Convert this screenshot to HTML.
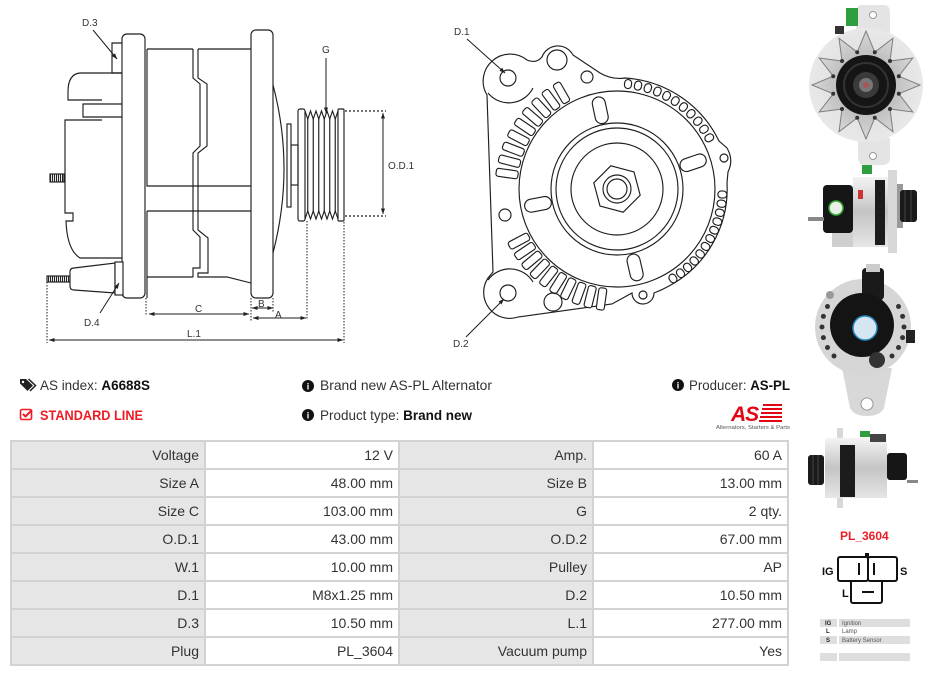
<!DOCTYPE html>
<html><head><meta charset="utf-8"><style>
*{margin:0;padding:0;box-sizing:border-box}
html,body{width:929px;height:676px;overflow:hidden;background:#fff}
body{position:relative;font-family:"Liberation Sans",Arial,sans-serif}
svg{position:absolute;left:0;top:0}
#tbl{position:absolute;left:10px;top:440px;width:779px;height:226px;background:#d2d2d2;padding:2px;display:grid;grid-template-columns:192px 192px 192px 193px;grid-auto-rows:26px;gap:2px}
#tbl div{font-size:14px;line-height:26px;text-align:right;padding-right:5px;white-space:nowrap;color:#333}
#tbl .l{background:#e6e6e6}
#tbl .v{background:#fff}
</style></head><body>
<svg width="929" height="676" viewBox="0 0 929 676">
<defs>
<marker id="ar" viewBox="0 0 10 10" refX="9.5" refY="5" markerWidth="6" markerHeight="6" markerUnits="userSpaceOnUse" orient="auto-start-reverse"><path d="M0,1.5 L10,5 L0,8.5z" fill="#222"/></marker>
<pattern id="hatch" width="2" height="10" patternUnits="userSpaceOnUse"><rect width="1.1" height="10" fill="#222"/></pattern>
<linearGradient id="silv" x1="0" y1="0" x2="0" y2="1"><stop offset="0" stop-color="#f4f4f4"/><stop offset="0.5" stop-color="#c4c4c4"/><stop offset="1" stop-color="#e6e6e6"/></linearGradient>
<radialGradient id="plate" cx="0.5" cy="0.5" r="0.5"><stop offset="0" stop-color="#dadada"/><stop offset="1" stop-color="#e8e8e8"/></radialGradient>
<radialGradient id="blade" cx="0.5" cy="0.5" r="0.5"><stop offset="0.5" stop-color="#bdbdbd"/><stop offset="1" stop-color="#d8d8d8"/></radialGradient>
</defs>

<!-- LEFT SIDE VIEW -->
<g stroke="#1e1e1e" stroke-width="1.15" fill="none">
<rect x="122" y="34" width="23" height="264" rx="5" fill="#fff"/>
<path d="M122,43 H112 V73 H122"/>
<path d="M122,73 H80 Q68,74 68,92 V100 H102"/>
<path d="M122,104 H83 V117 H122"/>
<path d="M102,120 H65 V213 H73 V221 H66 Q67,250 80,258 H122"/>
<rect x="50" y="174" width="14" height="8" fill="url(#hatch)"/>
<rect x="47" y="276" width="23" height="6" fill="url(#hatch)"/>
<path d="M70,272 Q70,268 74,268 L115,263 V293 L74,290 Q70,290 70,286 Z" fill="#fff"/>
<rect x="115" y="262" width="8" height="33" fill="#fff"/>
<path d="M147,49 H193 M147,49 V186 H251 M147,211 H251 M147,211 V298 M147,277 H193"/>
<path d="M193,49 V78 L200,84 V146 L193,153 V230 L200,237 V268 H193 V277"/>
<path d="M198,49 V78 L207,84 V146 L198,153 V230 L208,238 V273 H198 V277 H227 L251,283"/>
<path d="M198,49 H251"/>
<rect x="251" y="30" width="22" height="268" rx="5" fill="#fff"/>
<path d="M273,85 Q295,168 273,253"/>
<rect x="291" y="145" width="7" height="40"/>
<rect x="287" y="124" width="4" height="83" fill="#fff"/>
<rect x="298" y="109" width="7" height="112" rx="2"/>
<rect x="338" y="109" width="6" height="112" rx="1"/>
<path d="M305,111 L307.75,119 L310.5,111 L313.25,119 L316,111 L318.75,119 L321.5,111 L324.25,119 L327,111 L329.75,119 L332.5,111 L335.25,119 L338,111"/>
<path d="M305,219 L307.75,211 L310.5,219 L313.25,211 L316,219 L318.75,211 L321.5,219 L324.25,211 L327,219 L329.75,211 L332.5,219 L335.25,211 L338,219"/>
<path d="M307.75,119 V211 M313.25,119 V211 M318.75,119 V211 M324.25,119 V211 M329.75,119 V211 M335.25,119 V211"/>
<path d="M345,111 H386 M345,216 H386" stroke-dasharray="2,2"/>
<path d="M383,113 V214" marker-start="url(#ar)" marker-end="url(#ar)" stroke-width="1"/>
<path d="M326,58 V113" marker-end="url(#ar)" stroke-width="1"/>
<path d="M149,314 H249" marker-start="url(#ar)" marker-end="url(#ar)" stroke-width="1"/>
<path d="M252,308 H273" marker-start="url(#ar)" marker-end="url(#ar)" stroke-width="1"/>
<path d="M253,318 H306" marker-start="url(#ar)" marker-end="url(#ar)" stroke-width="1"/>
<path d="M49,340 H343" marker-start="url(#ar)" marker-end="url(#ar)" stroke-width="1"/>
<path d="M146,298 V316 M251,298 V322 M273,298 V312 M307,221 V320 M344,222 V343 M47,282 V343" stroke-dasharray="1.5,1.5" stroke-width="1"/>
<path d="M93,30 L117,59" marker-end="url(#ar)" stroke-width="1"/>
<path d="M100,313 L119,283" marker-end="url(#ar)" stroke-width="1"/>
</g>
<g font-size="10" fill="#333" font-family="Liberation Sans, sans-serif">
<text x="82" y="26">D.3</text>
<text x="84" y="326">D.4</text>
<text x="322" y="53">G</text>
<text x="388" y="169">O.D.1</text>
<text x="195" y="312">C</text>
<text x="258" y="307">B</text>
<text x="275" y="318">A</text>
<text x="187" y="337">L.1</text>
<text x="454" y="35">D.1</text>
<text x="453" y="347">D.2</text>
</g>

<!-- FRONT VIEW -->
<g stroke="#1e1e1e" stroke-width="1.15" fill="none">
<path d="M493,272 L487,95 A27,27 0 0 1 527,60 Q536,64 542,57 A17,17 0 0 1 573,55 L600,73 Q612,80 625,78 A112,112 0 0 1 719,141 L727,148 Q734,160 728,172 L727,183 A110,110 0 0 1 669,286 Q662,290 654,293 A11,11 0 1 1 632,293 L612,304 L518,317 A26,26 0 0 1 488,278 Z" fill="#fff"/>
<path d="M488,93 A27,27 0 0 0 533,88"/>
<path d="M488,280 A27,27 0 0 1 533,282"/>
<g fill="#fff">
<rect x="717" y="185" width="22" height="8" rx="2.5" transform="rotate(188 617 189)"/>
<rect x="717" y="185" width="22" height="8" rx="2.5" transform="rotate(194.5 617 189)"/>
<rect x="717" y="185" width="22" height="8" rx="2.5" transform="rotate(201 617 189)"/>
<rect x="717" y="185" width="22" height="8" rx="2.5" transform="rotate(207.5 617 189)"/>
<rect x="717" y="185" width="22" height="8" rx="2.5" transform="rotate(214 617 189)"/>
<rect x="717" y="185" width="22" height="8" rx="2.5" transform="rotate(220.5 617 189)"/>
<rect x="717" y="185" width="22" height="8" rx="2.5" transform="rotate(227 617 189)"/>
<rect x="717" y="185" width="22" height="8" rx="2.5" transform="rotate(233.5 617 189)"/>
<rect x="717" y="185" width="22" height="8" rx="2.5" transform="rotate(240 617 189)"/>
<rect x="717" y="185" width="22" height="8" rx="2.5" transform="rotate(98 617 189)"/>
<rect x="717" y="185" width="22" height="8" rx="2.5" transform="rotate(104 617 189)"/>
<rect x="717" y="185" width="22" height="8" rx="2.5" transform="rotate(110 617 189)"/>
<rect x="717" y="185" width="22" height="8" rx="2.5" transform="rotate(116 617 189)"/>
<rect x="717" y="185" width="22" height="8" rx="2.5" transform="rotate(122 617 189)"/>
<rect x="717" y="185" width="22" height="8" rx="2.5" transform="rotate(128 617 189)"/>
<rect x="717" y="185" width="22" height="8" rx="2.5" transform="rotate(134 617 189)"/>
<rect x="717" y="185" width="22" height="8" rx="2.5" transform="rotate(140 617 189)"/>
<rect x="717" y="185" width="22" height="8" rx="2.5" transform="rotate(146 617 189)"/>
<rect x="717" y="185" width="22" height="8" rx="2.5" transform="rotate(152 617 189)"/>
<rect x="718" y="185.5" width="9" height="7" rx="3.5" transform="rotate(-84 617 189)"/>
<rect x="718" y="185.5" width="9" height="7" rx="3.5" transform="rotate(-78.5 617 189)"/>
<rect x="718" y="185.5" width="9" height="7" rx="3.5" transform="rotate(-73 617 189)"/>
<rect x="718" y="185.5" width="9" height="7" rx="3.5" transform="rotate(-67.5 617 189)"/>
<rect x="718" y="185.5" width="9" height="7" rx="3.5" transform="rotate(-62 617 189)"/>
<rect x="718" y="185.5" width="9" height="7" rx="3.5" transform="rotate(-56.5 617 189)"/>
<rect x="718" y="185.5" width="9" height="7" rx="3.5" transform="rotate(-51 617 189)"/>
<rect x="718" y="185.5" width="9" height="7" rx="3.5" transform="rotate(-45.5 617 189)"/>
<rect x="718" y="185.5" width="9" height="7" rx="3.5" transform="rotate(-40 617 189)"/>
<rect x="718" y="185.5" width="9" height="7" rx="3.5" transform="rotate(-34.5 617 189)"/>
<rect x="718" y="185.5" width="9" height="7" rx="3.5" transform="rotate(-29 617 189)"/>
<rect x="718" y="185.5" width="9" height="7" rx="3.5" transform="rotate(3 617 189)"/>
<rect x="718" y="185.5" width="9" height="7" rx="3.5" transform="rotate(8 617 189)"/>
<rect x="718" y="185.5" width="9" height="7" rx="3.5" transform="rotate(13 617 189)"/>
<rect x="718" y="185.5" width="9" height="7" rx="3.5" transform="rotate(18 617 189)"/>
<rect x="718" y="185.5" width="9" height="7" rx="3.5" transform="rotate(23 617 189)"/>
<rect x="718" y="185.5" width="9" height="7" rx="3.5" transform="rotate(28 617 189)"/>
<rect x="718" y="185.5" width="9" height="7" rx="3.5" transform="rotate(33 617 189)"/>
<rect x="718" y="185.5" width="9" height="7" rx="3.5" transform="rotate(38 617 189)"/>
<rect x="718" y="185.5" width="9" height="7" rx="3.5" transform="rotate(43 617 189)"/>
<rect x="718" y="185.5" width="9" height="7" rx="3.5" transform="rotate(48 617 189)"/>
<rect x="718" y="185.5" width="9" height="7" rx="3.5" transform="rotate(53 617 189)"/>
<rect x="718" y="185.5" width="9" height="7" rx="3.5" transform="rotate(58 617 189)"/>
</g>
<circle cx="617" cy="189" r="98" fill="#fff"/>
<g fill="#fff">
<rect x="684" y="182.5" width="27" height="13" rx="6.5" transform="rotate(-102 617 189)"/>
<rect x="684" y="182.5" width="27" height="13" rx="6.5" transform="rotate(-19 617 189)"/>
<rect x="684" y="182.5" width="27" height="13" rx="6.5" transform="rotate(77 617 189)"/>
<rect x="684" y="182.5" width="27" height="13" rx="6.5" transform="rotate(169 617 189)"/>
</g>
<circle cx="617" cy="189" r="66" fill="#fff"/>
<circle cx="617" cy="189" r="61"/>
<circle cx="617" cy="189" r="46"/>
<polygon points="640.2,195.2 623.2,212.2 600,206 593.8,182.8 610.8,165.8 634,172"/>
<circle cx="617" cy="189" r="14"/>
<circle cx="617" cy="189" r="10"/>
<circle cx="508" cy="78" r="8"/>
<circle cx="557" cy="60" r="10"/>
<circle cx="587" cy="77" r="6"/>
<circle cx="505" cy="215" r="6"/>
<circle cx="508" cy="293" r="8"/>
<circle cx="553" cy="302" r="9"/>
<circle cx="643" cy="295" r="4"/>
<circle cx="724" cy="158" r="4"/>
<path d="M467,39 L505,73" marker-end="url(#ar)" stroke-width="1"/>
<path d="M466,337 L504,299" marker-end="url(#ar)" stroke-width="1"/>
</g>

<!-- PHOTO 1 -->
<g>
<path d="M862,5 h22 q6,0 6,8 v22 h-34 v-22 q0,-8 6,-8z" fill="#e4e4e4"/>
<path d="M858,138 h32 v20 q0,7 -8,7 h-16 q-8,0 -8,-7z" fill="#e4e4e4"/>
<circle cx="873" cy="15" r="3.5" fill="#fff" stroke="#999"/>
<circle cx="873" cy="156" r="3.5" fill="#fff" stroke="#999"/>
<circle cx="866" cy="85" r="57" fill="url(#plate)"/>
<polygon points="920,85 898.8,93.8 912.8,112 890,109 893,131.8 874.8,117.8 866,139 857.2,117.8 839,131.8 842,109 819.2,112 833.2,93.8 812,85 833.2,76.2 819.2,58 842,61 839,38.2 857.2,52.2 866,31 874.8,52.2 893,38.2 890,61 912.8,58 898.8,76.2" fill="url(#blade)" stroke="#7e7e7e" stroke-width="1"/>
<g fill="#333">
<circle cx="898.8" cy="93.8" r="2"/><circle cx="890" cy="109" r="2"/><circle cx="874.8" cy="117.8" r="2"/><circle cx="857.2" cy="117.8" r="2"/><circle cx="842" cy="109" r="2"/><circle cx="833.2" cy="93.8" r="2"/><circle cx="833.2" cy="76.2" r="2"/><circle cx="842" cy="61" r="2"/><circle cx="857.2" cy="52.2" r="2"/><circle cx="874.8" cy="52.2" r="2"/><circle cx="890" cy="61" r="2"/><circle cx="898.8" cy="76.2" r="2"/>
</g>
<circle cx="866" cy="85" r="30" fill="#151515"/>
<circle cx="866" cy="85" r="22" fill="none" stroke="#333" stroke-width="2"/>
<circle cx="866" cy="85" r="13" fill="#3a3a3a"/>
<circle cx="866" cy="85" r="7" fill="#777"/>
<circle cx="866" cy="85" r="3" fill="#a55"/>
<rect x="846" y="8" width="12" height="18" fill="#2e9e3e"/>
<rect x="835" y="26" width="9" height="8" fill="#333"/>
</g>
<!-- PHOTO 2 -->
<g>
<rect x="832" y="200" width="24" height="47" fill="#cfcfcf"/>
<rect x="823" y="185" width="30" height="48" rx="4" fill="#161616"/>
<circle cx="836" cy="208" r="7" fill="#e8efe8" stroke="#3a3" stroke-width="1.5"/>
<rect x="808" y="217" width="16" height="4" fill="#888"/>
<rect x="853" y="177" width="40" height="70" fill="url(#silv)"/>
<rect x="875" y="180" width="10" height="65" fill="#1c1c1c"/>
<rect x="888" y="170" width="9" height="83" fill="#d8d8d8"/>
<rect x="897" y="184" width="6" height="44" fill="#999"/>
<rect x="900" y="190" width="17" height="32" rx="3" fill="#1a1a1a"/>
<path d="M905,190 V222 M911,190 V222" stroke="#444" stroke-width="1"/>
<rect x="862" y="165" width="10" height="9" fill="#2e9e3e"/>
<rect x="858" y="190" width="5" height="9" fill="#c33"/>
</g>
<!-- PHOTO 3 -->
<g>
<path d="M842,368 h50 l-8,40 q-4,8 -17,8 q-13,0 -17,-8z" fill="#d8d8d8"/>
<circle cx="867" cy="404" r="6" fill="#fff" stroke="#999"/>
<circle cx="863" cy="327" r="48" fill="#d6d6d6"/>
<g fill="#333">
<circle cx="827.5" cy="347.5" r="2.5"/><circle cx="823.4" cy="337.6" r="2.5"/><circle cx="822" cy="327" r="2.5"/><circle cx="823.4" cy="316.4" r="2.5"/><circle cx="827.5" cy="306.5" r="2.5"/><circle cx="834" cy="356" r="2.5"/>
<circle cx="898.5" cy="347.5" r="2.5"/><circle cx="902.6" cy="337.6" r="2.5"/><circle cx="904" cy="327" r="2.5"/><circle cx="902.6" cy="316.4" r="2.5"/><circle cx="898.5" cy="306.5" r="2.5"/><circle cx="892" cy="356" r="2.5"/>
</g>
<rect x="862" y="268" width="22" height="32" rx="4" fill="#1a1a1a"/>
<rect x="866" y="264" width="14" height="8" fill="#ccc"/>
<circle cx="862" cy="325" r="32" fill="#141414"/>
<circle cx="865" cy="328" r="12" fill="#d5e6f2" stroke="#2a8ac0" stroke-width="1.5"/>
<rect x="906" y="330" width="9" height="13" fill="#222"/>
<circle cx="877" cy="360" r="8" fill="#333"/>
<circle cx="830" cy="295" r="4" fill="#999"/>
</g>
<!-- PHOTO 4 -->
<g>
<rect x="837" y="428" width="6" height="80" fill="#d8d8d8"/>
<rect x="825" y="438" width="62" height="60" fill="url(#silv)"/>
<rect x="840" y="445" width="15" height="52" fill="#1c1c1c"/>
<rect x="808" y="455" width="16" height="30" rx="3" fill="#1a1a1a"/>
<path d="M813,455 V485 M818,455 V485" stroke="#444" stroke-width="1"/>
<rect x="887" y="453" width="20" height="27" rx="3" fill="#161616"/>
<rect x="907" y="480" width="11" height="3" fill="#888"/>
<rect x="860" y="431" width="10" height="6" fill="#2e9e3e"/>
<rect x="870" y="434" width="16" height="8" fill="#444"/>
</g>

<!-- PLUG -->
<text x="840" y="540" font-size="12" font-weight="bold" fill="#ee1c25">PL_3604</text>
<g stroke="#111" stroke-width="2" fill="#fff">
<rect x="851" y="580" width="31" height="23" rx="2"/>
<rect x="838" y="557" width="30" height="24" rx="2"/>
<rect x="868" y="557" width="29" height="24" rx="2"/>
<path d="M859,563 V575 M874,563 V575 M862,592 H874" fill="none"/>
</g>
<rect x="865" y="553" width="4" height="5" fill="#111"/>
<g font-size="11" font-weight="bold" fill="#111">
<text x="822" y="575">IG</text>
<text x="900" y="575">S</text>
<text x="842" y="597">L</text>
</g>
<g fill="#dedede">
<rect x="820" y="619" width="17" height="8"/><rect x="839" y="619" width="71" height="8"/>
<rect x="820" y="636" width="17" height="8"/><rect x="839" y="636" width="71" height="8"/>
<rect x="820" y="653" width="17" height="8"/><rect x="839" y="653" width="71" height="8"/>
</g>
<g font-size="6" fill="#555">
<text x="825" y="625" font-weight="bold" fill="#222">IG</text><text x="842" y="625">Ignition</text>
<text x="826" y="633" font-weight="bold" fill="#222">L</text><text x="842" y="633">Lamp</text>
<text x="826" y="642" font-weight="bold" fill="#222">S</text><text x="842" y="642">Battery Sensor</text>
</g>

<!-- INFO -->
<path d="M20,379 h6 l7,6.5 l-5.5,5.5 l-7.5,-7.5z" fill="#222"/>
<circle cx="23" cy="382" r="1.2" fill="#fff"/>
<path d="M28.5,379 l7,6.5 l-5.5,5.5" stroke="#222" fill="none" stroke-width="1.5"/>
<rect x="20.5" y="409.5" width="11" height="10" rx="1.5" stroke="#ee1c25" stroke-width="1.6" fill="none"/>
<path d="M23,414 l2.5,2.5 l6.5,-6.5" stroke="#ee1c25" stroke-width="2" fill="none"/>
<g fill="#111">
<circle cx="308" cy="386" r="6"/><circle cx="308" cy="415" r="6"/><circle cx="678" cy="385" r="6"/>
</g>
<g font-size="9" font-weight="bold" fill="#fff" text-anchor="middle">
<text x="308" y="389.5">i</text><text x="308" y="418.5">i</text><text x="678" y="388.5">i</text>
</g>
<g font-size="14" fill="#333">
<text x="40" y="390" textLength="110" lengthAdjust="spacingAndGlyphs">AS index: <tspan font-weight="bold" fill="#111">A6688S</tspan></text>
<text x="40" y="420" font-weight="bold" fill="#ee1c25" textLength="103" lengthAdjust="spacingAndGlyphs">STANDARD LINE</text>
<text x="320" y="390" textLength="172" lengthAdjust="spacingAndGlyphs">Brand new AS-PL Alternator</text>
<text x="320" y="420" textLength="152" lengthAdjust="spacingAndGlyphs">Product type: <tspan font-weight="bold" fill="#111">Brand new</tspan></text>
<text x="689" y="390" textLength="101" lengthAdjust="spacingAndGlyphs">Producer: <tspan font-weight="bold" fill="#111">AS-PL</tspan></text>
</g>
<text x="731" y="421" font-size="21" font-weight="bold" font-style="italic" fill="#e30613" letter-spacing="-1">AS</text>
<g fill="#e30613">
<rect x="763" y="404" width="19" height="2"/><rect x="762" y="408" width="20" height="2"/><rect x="761" y="412" width="21" height="2"/><rect x="760" y="416" width="22" height="2"/><rect x="759" y="420" width="23" height="2"/>
</g>
<text x="716" y="429" font-size="5.5" fill="#555" textLength="74" lengthAdjust="spacingAndGlyphs">Alternators, Starters &amp; Parts</text>
</svg>

<div id="tbl">
<div class="l">Voltage</div><div class="v">12 V</div><div class="l">Amp.</div><div class="v">60 A</div>
<div class="l">Size A</div><div class="v">48.00 mm</div><div class="l">Size B</div><div class="v">13.00 mm</div>
<div class="l">Size C</div><div class="v">103.00 mm</div><div class="l">G</div><div class="v">2 qty.</div>
<div class="l">O.D.1</div><div class="v">43.00 mm</div><div class="l">O.D.2</div><div class="v">67.00 mm</div>
<div class="l">W.1</div><div class="v">10.00 mm</div><div class="l">Pulley</div><div class="v">AP</div>
<div class="l">D.1</div><div class="v">M8x1.25 mm</div><div class="l">D.2</div><div class="v">10.50 mm</div>
<div class="l">D.3</div><div class="v">10.50 mm</div><div class="l">L.1</div><div class="v">277.00 mm</div>
<div class="l">Plug</div><div class="v">PL_3604</div><div class="l">Vacuum pump</div><div class="v">Yes</div>
</div>
</body></html>
